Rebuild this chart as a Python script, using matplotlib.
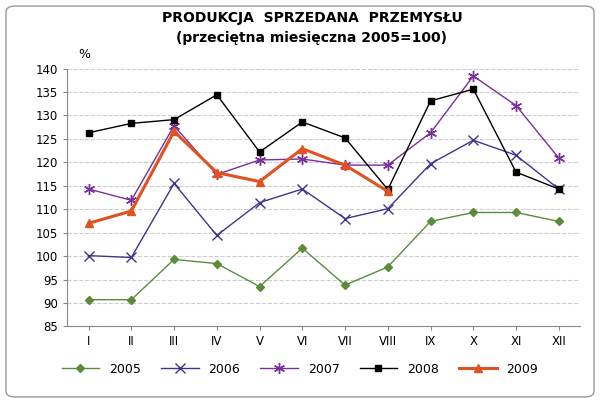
import matplotlib.pyplot as plt
from matplotlib.patches import FancyBboxPatch

months = ['I', 'II', 'III', 'IV', 'V', 'VI', 'VII', 'VIII', 'IX', 'X', 'XI', 'XII']
y2005 = [90.7, 90.7, 99.3, 98.4, 93.5, 101.7, 93.8, 97.7, 107.4, 109.3, 109.3, 107.4]
y2006 = [100.1, 99.7, 115.5, 104.4, 111.4, 114.3, 108.0, 110.1, 119.7, 124.7, 121.5, 114.3]
y2007 = [114.3, 111.9, 127.8, 117.4, 120.5, 120.7, 119.4, 119.4, 126.3, 138.4, 132.1, 120.9]
y2008 = [126.3, 128.3, 129.1, 134.4, 122.2, 128.6, 125.2, 114.2, 133.1, 135.6, 117.9, 114.3]
y2009 = [107.0, 109.6, 126.6, 117.8, 115.9, 122.9, 119.4, 113.8]

fig = plt.figure(figsize=(6, 4.03), dpi=100)
fig.patches.append(FancyBboxPatch((0.01, 0.015), 0.98, 0.97, boxstyle='round,pad=0,rounding_size=0.015',
                                  transform=fig.transFigure, fill=False, ec='#999999', lw=1))
ax = fig.add_axes([0.112, 0.19, 0.855, 0.64])
x = list(range(12))
ax.plot(x, y2005, color='#5b8c3a', marker='D', ms=4, lw=1, label='2005')
ax.plot(x, y2006, color='#3d3590', marker='x', ms=7, mew=1, lw=1, label='2006')
ax.plot(x, y2007, color='#7a2f9a', marker=(6, 2, 0), ms=8, mew=1, lw=1, label='2007')
ax.plot(x, y2008, color='black', marker='s', ms=4, lw=1, label='2008')
ax.plot(x[:len(y2009)], y2009, color='#e0521f', marker='^', ms=6, lw=2.2, label='2009')

ax.set_ylim(85, 140)
ax.set_yticks(range(85, 141, 5))
ax.set_xlim(-0.5, 11.5)
ax.set_xticks(x)
ax.set_xticklabels(months)
ax.tick_params(labelsize=8.5, length=3, color='#888888')
ax.yaxis.grid(True, ls='--', color='#cccccc', lw=0.8)
for s in ['top', 'right']:
    ax.spines[s].set_visible(False)
for s in ['left', 'bottom']:
    ax.spines[s].set_color('#888888')

fig.text(0.52, 0.955, 'PRODUKCJA  SPRZEDANA  PRZEMYSŁU', ha='center', va='center',
         fontsize=10, fontweight='bold')
fig.text(0.52, 0.905, '(przeciętna miesięczna 2005=100)', ha='center', va='center',
         fontsize=10, fontweight='bold')
fig.text(0.14, 0.865, '%', ha='center', va='center', fontsize=9)
fig.legend(loc='lower center', ncol=5, bbox_to_anchor=(0.5, 0.04), frameon=False,
           fontsize=9, handlelength=3.0, columnspacing=1.6)
fig.savefig('out.png', dpi=100)
